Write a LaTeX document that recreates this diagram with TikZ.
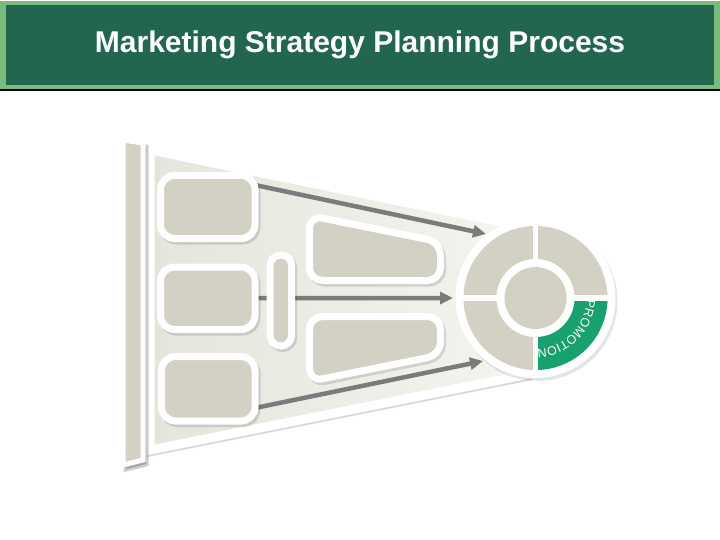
\documentclass[tikz,border=0pt]{standalone}
\usepackage{fontspec}
\setmainfont{Liberation Sans}
\usetikzlibrary{arrows.meta,decorations.text}
\definecolor{hdrdark}{HTML}{22664F}
\definecolor{hdrlight}{HTML}{78BB7C}
\definecolor{boxgrey}{HTML}{D3D1C3}
\definecolor{funnelL}{HTML}{E5E5DC}
\definecolor{funnelR}{HTML}{F5F5F1}
\definecolor{arrowgrey}{HTML}{7B7B7B}
\definecolor{promo}{HTML}{18A06E}
\pgfdeclarelayer{back}
\pgfdeclarelayer{mid}
\pgfsetlayers{back,mid,main}
\begin{document}
\begin{tikzpicture}[x=1pt,y=-1pt,
  shad/.style={preaction={draw=black, line width=7pt, opacity=0.13,
      transform canvas={xshift=2pt,yshift=-2.5pt}}},
  greybox/.style={shad, fill=boxgrey, draw=white, line width=7pt,
      rounded corners=14pt, inner sep=0pt, outer sep=0pt},
  trap/.style={shad, fill=boxgrey, draw=white, line width=7pt, rounded corners=13pt},
  flow/.style={draw=arrowgrey, line width=4.5pt, -{Triangle[length=13pt,width=12pt]}},
  ]
\begin{pgfonlayer}{back}
\useasboundingbox (0,0) rectangle (720,540);
\fill[white] (0,0) rectangle (720,540);

% header
\fill[black] (0,2) rectangle (720,91);
\fill[hdrlight] (0,1) rectangle (720,89.3);
\fill[hdrdark] (5.5,5.5) rectangle (714.3,85);

% funnel
\shadedraw[left color=funnelL, right color=funnelR, draw=white, line width=9pt,
  preaction={fill=black, opacity=0.16, transform canvas={xshift=-3pt,yshift=-7pt}}]
  (150,150) -- (535,229) -- (535,373) -- (150,450) -- cycle;

% left bar
\path[fill=boxgrey, draw=white, line width=5pt,
  preaction={draw=black, fill=black, line width=5pt, opacity=0.2, transform canvas={xshift=3pt,yshift=-4pt}}]
  (123,140) -- (143,143) -- (143,460) -- (123,465) -- cycle;
\end{pgfonlayer}

\node[font=\bfseries\fontsize{30}{34}\selectfont, text=white, anchor=base, inner sep=0pt]
  (title) at (360,53) {Marketing Strategy Planning Process};

% arrow end points
\coordinate (t1) at (486,234);
\coordinate (t2) at (453,298);
\coordinate (t3) at (483,361);

% left boxes
\node[greybox, minimum width=94.5pt, minimum height=63pt] (box1) at (207.75,207) {};
\node[greybox, minimum width=94.5pt, minimum height=62.5pt] (box2) at (207.75,298.25) {};
\node[greybox, minimum width=93.5pt, minimum height=64.5pt] (box3) at (208.25,388.75) {};

% connectors, behind the boxes
\begin{pgfonlayer}{mid}
\draw[flow] ([yshift=22pt]box1.east) -- (t1);
\draw[flow] (box2.east) -- (t2);
\draw[flow] ([yshift=-19.25pt]box3.east) -- (t3);
\end{pgfonlayer}

% pill
\node[greybox, rounded corners=10.8pt, minimum width=21.7pt, minimum height=91pt] (pill) at (280.85,300.5) {};

% trapezoids
\path[trap] (309.5,215.5) -- (440.5,242) -- (440.5,280.5) -- (309.5,280.5) -- cycle;
\path[trap] (309.5,316.5) -- (440.5,316.5) -- (440.5,355) -- (309.5,381.5) -- cycle;

% wheel
\node[circle, fill=white, minimum size=160pt, inner sep=0pt,
  preaction={fill=black, opacity=0.10, transform canvas={xshift=2pt,yshift=-3pt}}]
  (wheel) at (535.5,298) {};
\fill[boxgrey] (wheel.center) circle[radius=72];
\fill[promo] (wheel.center) -- ++(72,0) arc[start angle=0, end angle=90, radius=72] -- cycle;
\draw[white, line width=5.5pt] ([xshift=-74pt]wheel.center) -- ([xshift=74pt]wheel.center);
\draw[white, line width=5.5pt] ([yshift=74pt]wheel.center) -- ([yshift=-74pt]wheel.center);
\fill[white] (wheel.center) circle[radius=39];
\fill[boxgrey] (wheel.center) circle[radius=31];

\begin{scope}[x=1pt, y=1pt]
\path[decorate, decoration={text along path, text align=center,
    text={|\color{white}\fontsize{12.5}{13}\selectfont|PROMOTION}}]
  (535.5,-298) ++(3:51) arc[start angle=3, end angle=-93, radius=51];
\end{scope}
\end{tikzpicture}
\end{document}
